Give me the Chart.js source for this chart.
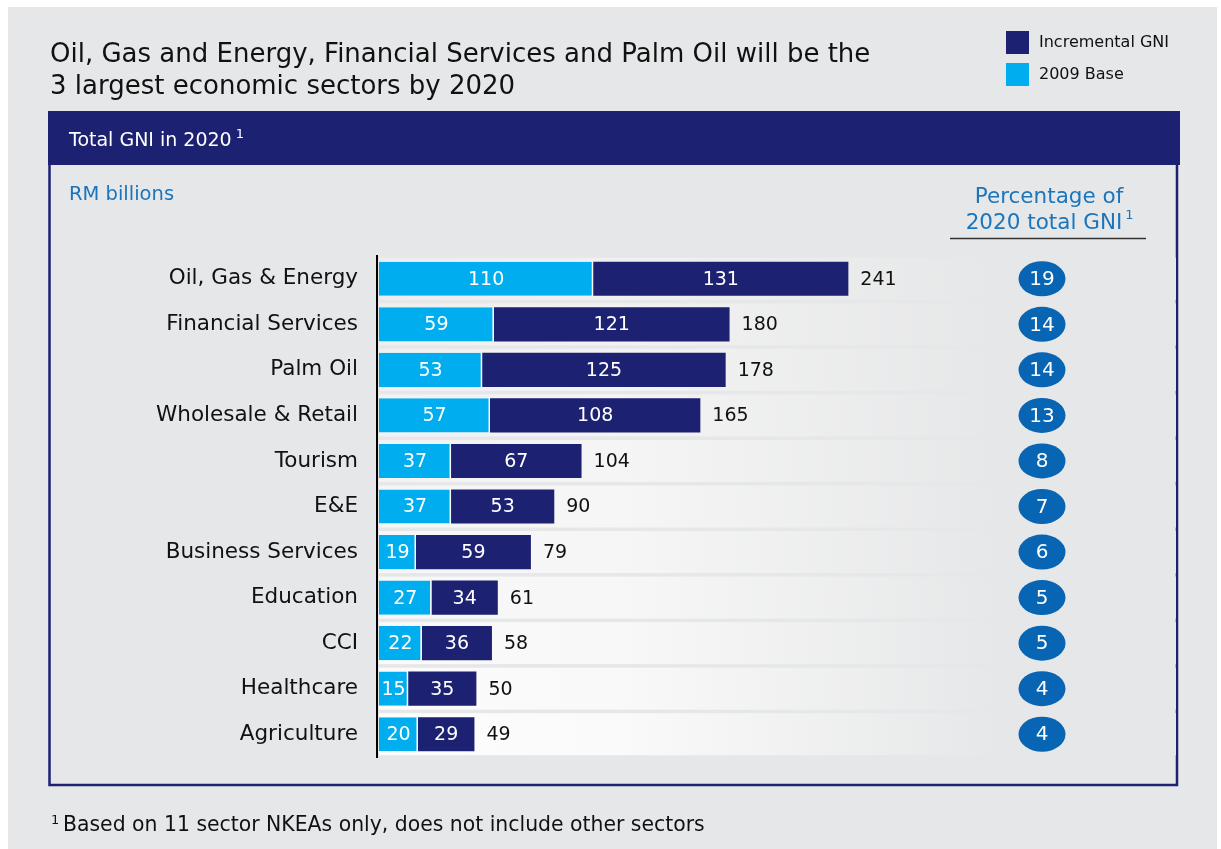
<!DOCTYPE html>
<html>
<head>
<meta charset="utf-8">
<title>Total GNI in 2020</title>
<script src="https://cdn.jsdelivr.net/npm/chart.js@4.4.1/dist/chart.umd.min.js"></script>
<style>
  html, body { margin: 0; padding: 0; background: #fff; overflow: hidden; }
  canvas { display: block; }
</style>
</head>
<body>
<canvas id="gniChart" width="1221" height="849"></canvas>
<script>
// sectors, top to bottom
const sectors = [
  'Oil, Gas & Energy', 'Financial Services', 'Palm Oil', 'Wholesale & Retail',
  'Tourism', 'E&E', 'Business Services', 'Education', 'CCI', 'Healthcare', 'Agriculture'
];
// RM billions
const base2009 = [110, 59, 53, 57, 37, 37, 19, 27, 22, 15, 20];
const incrementalGni = [131, 121, 125, 108, 67, 53, 59, 34, 36, 35, 29];
const totalGni = [241, 180, 178, 165, 104, 90, 79, 61, 58, 50, 49];
// percentage of 2020 total GNI
const shareOfTotal = [19, 14, 14, 13, 8, 7, 6, 5, 5, 4, 4];

const NAVY = '#1d2171';
const CYAN = '#00aeef';
const GREY = '#e6e7e8';
const BLUE_TEXT = '#1b75bc';
const OVAL = '#0765b3';
const FONT = '"DejaVu Sans", sans-serif';

function font(size) { return size + 'px ' + FONT; }

function hexMix(a, b, t) {
  const pa = [1, 3, 5].map(i => parseInt(a.slice(i, i + 2), 16));
  const pb = [1, 3, 5].map(i => parseInt(b.slice(i, i + 2), 16));
  return 'rgb(' + pa.map((v, i) => Math.round(v + (pb[i] - v) * t)).join(',') + ')';
}

// page frame, titles, legend, panel and row bands
const framePlugin = {
  id: 'frame',
  beforeDraw(chart) {
    const ctx = chart.ctx;
    ctx.save();
    ctx.fillStyle = '#fff';
    ctx.fillRect(0, 0, chart.width, chart.height);
    ctx.fillStyle = GREY;
    ctx.fillRect(8, 7, 1209, 842);

    // title
    ctx.fillStyle = '#111';
    ctx.font = font(26);
    ctx.textBaseline = 'alphabetic';
    ctx.textAlign = 'left';
    ctx.fillText('Oil, Gas and Energy, Financial Services and Palm Oil will be the', 50, 62);
    ctx.fillText('3 largest economic sectors by 2020', 50, 94);

    // legend
    ctx.fillStyle = NAVY;
    ctx.fillRect(1006, 31, 23, 23);
    ctx.fillStyle = CYAN;
    ctx.fillRect(1006, 63, 23, 23);
    ctx.fillStyle = '#111';
    ctx.font = font(16);
    ctx.textBaseline = 'middle';
    ctx.fillText('Incremental GNI', 1039, 43);
    ctx.fillText('2009 Base', 1039, 75);

    // header bar
    ctx.fillStyle = NAVY;
    ctx.fillRect(48, 111, 1132, 54);
    ctx.fillStyle = '#fff';
    ctx.font = font(19);
    ctx.textBaseline = 'alphabetic';
    ctx.fillText('Total GNI in 2020', 69, 146);
    let w = ctx.measureText('Total GNI in 2020').width;
    ctx.font = font(13);
    ctx.fillText('1', 69 + w + 4, 138);

    // panel outline
    ctx.strokeStyle = NAVY;
    ctx.lineWidth = 2.5;
    ctx.beginPath();
    ctx.moveTo(49.5, 165);
    ctx.lineTo(49.5, 785);
    ctx.lineTo(1177, 785);
    ctx.lineTo(1177, 165);
    ctx.stroke();

    // units and share column heading
    ctx.fillStyle = BLUE_TEXT;
    ctx.font = font(19.5);
    ctx.fillText('RM billions', 69, 200);
    ctx.textAlign = 'center';
    ctx.font = font(21.5);
    ctx.fillText('Percentage of', 1049, 203);
    ctx.fillText('2020 total GNI', 1044, 229);
    w = ctx.measureText('2020 total GNI').width;
    ctx.font = font(13);
    ctx.textAlign = 'left';
    ctx.fillText('1', 1044 + w / 2 + 3, 219);
    ctx.strokeStyle = '#333';
    ctx.lineWidth = 1.5;
    ctx.beginPath();
    ctx.moveTo(950, 238.5);
    ctx.lineTo(1146, 238.5);
    ctx.stroke();

    // footnote
    ctx.fillStyle = '#111';
    ctx.font = font(13);
    ctx.fillText('1', 51, 824);
    ctx.font = font(20.4);
    ctx.fillText('Based on 11 sector NKEAs only, does not include other sectors', 63, 831);
    ctx.restore();
  },
  beforeDatasetsDraw(chart) {
    const ctx = chart.ctx;
    const y = chart.scales.y;
    const left = chart.chartArea.left;
    const right = 1176;
    ctx.save();
    sectors.forEach((s, i) => {
      const cy = y.getPixelForValue(i);
      const t = i / (sectors.length - 1);
      const g = ctx.createLinearGradient(left, 0, right, 0);
      g.addColorStop(0, hexMix('#ededee', '#fdfdfd', t));
      g.addColorStop(0.3, hexMix('#f1f1f1', '#fafafa', t));
      g.addColorStop(0.78, GREY);
      g.addColorStop(1, GREY);
      ctx.fillStyle = g;
      ctx.fillRect(left, cy - 21, right - left, 42);
    });
    ctx.restore();
  }
};

// axis line, segment values, totals and share ovals
const labelPlugin = {
  id: 'valueLabels',
  afterDatasetsDraw(chart) {
    const ctx = chart.ctx;
    const x = chart.scales.x;
    const y = chart.scales.y;
    const area = chart.chartArea;
    ctx.save();
    ctx.strokeStyle = '#000';
    ctx.lineWidth = 2;
    ctx.beginPath();
    ctx.moveTo(area.left - 2, area.top - 1);
    ctx.lineTo(area.left - 2, area.bottom + 1);
    ctx.stroke();

    ctx.font = font(19);
    ctx.textBaseline = 'middle';
    ctx.textAlign = 'center';
    ctx.fillStyle = '#fff';
    chart.data.datasets.forEach((ds, di) => {
      chart.getDatasetMeta(di).data.forEach((bar, i) => {
        ctx.fillText(String(ds.data[i]), (bar.x + bar.base) / 2, bar.y + 1);
      });
    });

    ctx.textAlign = 'left';
    ctx.fillStyle = '#111';
    totalGni.forEach((t, i) => {
      const end = x.getPixelForValue(base2009[i] + incrementalGni[i]);
      ctx.fillText(String(t), end + 12, y.getPixelForValue(i) + 1);
    });

    ctx.font = font(20);
    shareOfTotal.forEach((p, i) => {
      const cy = y.getPixelForValue(i);
      ctx.fillStyle = OVAL;
      ctx.beginPath();
      ctx.ellipse(1042, cy, 23.5, 17.5, 0, 0, Math.PI * 2);
      ctx.fill();
      ctx.fillStyle = '#fff';
      ctx.textAlign = 'center';
      ctx.fillText(String(p), 1042, cy + 1);
    });
    ctx.restore();
  }
};

new Chart(document.getElementById('gniChart'), {
  type: 'bar',
  data: {
    labels: sectors,
    datasets: [
      {
        label: '2009 Base',
        data: base2009,
        backgroundColor: CYAN,
        borderColor: '#fff',
        borderWidth: { top: 0, bottom: 0, left: 0, right: 1.5 },
        barPercentage: 0.75,
        categoryPercentage: 1
      },
      {
        label: 'Incremental GNI',
        data: incrementalGni,
        backgroundColor: NAVY,
        borderWidth: 0,
        barPercentage: 0.75,
        categoryPercentage: 1
      }
    ]
  },
  options: {
    indexAxis: 'y',
    responsive: false,
    animation: false,
    devicePixelRatio: 1,
    layout: { padding: { left: 0, top: 256, right: 43.5, bottom: 92 } },
    plugins: {
      legend: { display: false },
      tooltip: { enabled: false }
    },
    scales: {
      x: { stacked: true, min: 0, max: 410, display: false },
      y: {
        stacked: true,
        grid: { display: false, drawTicks: false },
        border: { display: false },
        ticks: { color: '#111', font: { family: FONT, size: 21.5 }, padding: 21 },
        afterFit(scale) { scale.width = 379; }
      }
    }
  },
  plugins: [framePlugin, labelPlugin]
});
</script>
</body>
</html>
